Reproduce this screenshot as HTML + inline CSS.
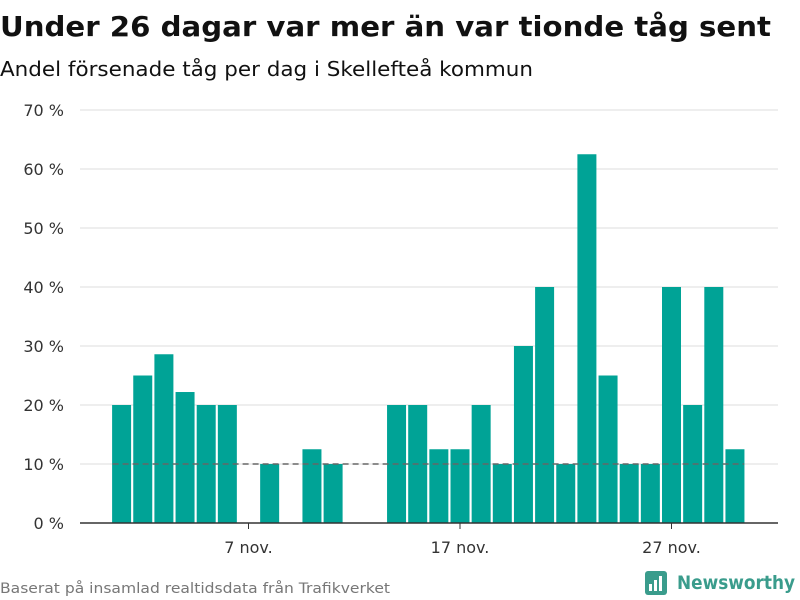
<!DOCTYPE html>
<html><head><meta charset="utf-8"><style>
body{margin:0;background:#fff;font-family:"DejaVu Sans","Liberation Sans",sans-serif;}
#wrap{position:relative;width:800px;height:600px;overflow:hidden}
</style></head><body>
<div id="wrap">
<svg id="chart" width="800" height="600">
<text x="0" y="36" font-size="28" font-weight="bold" fill="#111" textLength="771" lengthAdjust="spacingAndGlyphs">Under 26 dagar var mer än var tionde tåg sent</text>
<text x="0" y="76" font-size="20" fill="#111" textLength="533" lengthAdjust="spacingAndGlyphs">Andel försenade tåg per dag i Skellefteå kommun</text>
<g id="grid"></g><g id="bars"></g><g id="ref"></g><g id="xaxis"></g>
<text x="0" y="593" font-size="14" fill="#777" textLength="390" lengthAdjust="spacingAndGlyphs">Baserat på insamlad realtidsdata från Trafikverket</text>
<g>
<rect x="645" y="571" width="22" height="24" rx="3" fill="#3a9c8c"/>
<rect x="649" y="584" width="3" height="7" fill="#fff"/><rect x="654" y="580" width="3" height="11" fill="#fff"/><rect x="659" y="576" width="3" height="15" fill="#fff"/>
<text x="677" y="589" font-size="19" font-weight="bold" fill="#3a9c8c" textLength="118" lengthAdjust="spacingAndGlyphs">Newsworthy</text>
</g>
</svg>
</div>
<script>
const days=[1,2,3,4,5,6,7,8,9,10,11,12,13,14,15,16,17,18,19,20,21,22,23,24,25,26,27,28,29,30];
const values=[20,25,28.6,22.2,20,20,0,10,0,12.5,10,0,0,20,20,12.5,12.5,20,10,30,40,10,62.5,25,10,10,40,20,40,12.5];
const yTicks=[0,10,20,30,40,50,60,70];
const xTickDays=[7,17,27];
const xTickLabels=["7 nov.","17 nov.","27 nov."];
const refValue=10;
const NS="http://www.w3.org/2000/svg";
const x=d=>248.5+(d-7)*21.15;
const y=v=>523-v*5.9;
function mk(tag,attrs,parent){const e=document.createElementNS(NS,tag);for(const k in attrs)e.setAttribute(k,attrs[k]);parent.appendChild(e);return e;}
const grid=document.getElementById('grid');
yTicks.forEach(t=>{
  if(t>0){const l=mk('line',{x1:80,x2:778,y1:y(t),y2:y(t),stroke:'#ddd','stroke-width':1},grid);
  
  }
  const tx=mk('text',{x:64,y:y(t)+6,'font-size':16,'text-anchor':'end',fill:'#333'},grid);
  tx.textContent=t+' %';
  
  
});
const bars=document.getElementById('bars');
days.forEach((d,i)=>{
  if(values[i]<=0)return;
  const r=mk('rect',{x:x(d)-9.5,y:y(values[i]),width:19,height:523-y(values[i]),fill:'#00a396'},bars);
  
  
});
const ref=document.getElementById('ref');
const rl=mk('line',{x1:x(days[0])-9,x2:x(days[days.length-1])+9,y1:y(refValue),y2:y(refValue),stroke:'#666','stroke-width':1.5,'stroke-dasharray':'6,4'},ref);


const xa=document.getElementById('xaxis');
const base=mk('line',{x1:80,x2:778,y1:523,y2:523,stroke:'#333','stroke-width':1.5},xa);


xTickDays.forEach((d,i)=>{
  const tk=mk('line',{x1:x(d),x2:x(d),y1:523,y2:529,stroke:'#333'},xa);
  
  
  const t=mk('text',{x:x(d),y:553,'font-size':16,'text-anchor':'middle',fill:'#333'},xa);
  t.textContent=xTickLabels[i];
  
  
});
</script>
</body></html>
